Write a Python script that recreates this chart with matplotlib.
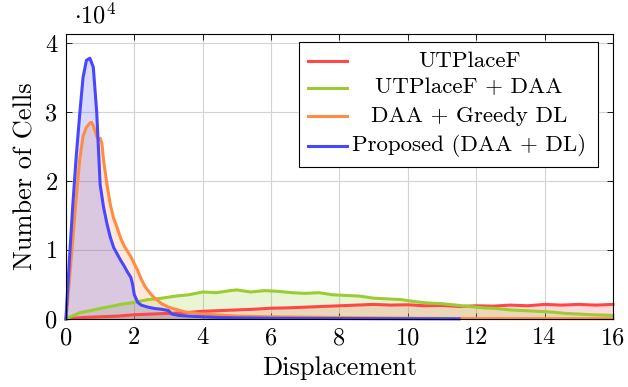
import matplotlib
matplotlib.use('Agg')
import matplotlib.pyplot as plt
from matplotlib.patches import Rectangle

plt.rcParams['font.family'] = 'cmr10'
plt.rcParams['mathtext.fontset'] = 'cm'
plt.rcParams['axes.unicode_minus'] = False
plt.rcParams['font.size'] = 16

# displacement histograms, counts in units of 1e4
red_x = [0, 0.5, 1.0, 1.5, 2.0, 2.5, 3.0, 3.5, 4.0, 4.5, 5.0, 5.5, 6.0, 6.5, 7.0, 7.5, 8.0,
         8.5, 9.0, 9.5, 10.0, 10.5, 11.0, 11.5, 12.0, 12.5, 13.0, 13.5, 14.0, 14.5, 15.0, 15.5, 16.0]
red_y = [0, 0.02, 0.03, 0.04, 0.06, 0.07, 0.08, 0.09, 0.11, 0.12, 0.13, 0.14, 0.155, 0.16, 0.17, 0.18, 0.19,
         0.2, 0.21, 0.2, 0.205, 0.19, 0.195, 0.18, 0.19, 0.185, 0.2, 0.19, 0.21, 0.2, 0.21, 0.2, 0.21]

green_x = [0, 0.4, 0.8, 1.2, 1.6, 2.0, 2.4, 2.8, 3.2, 3.6, 4.0, 4.4, 4.8, 5.0, 5.4, 5.8, 6.2, 6.6, 7.0,
           7.4, 7.8, 8.2, 8.6, 9.0, 9.4, 9.8, 10.2, 10.6, 11.0, 11.4, 11.8, 12.2, 12.6, 13.0, 13.4, 13.8,
           14.2, 14.6, 15.0, 15.4, 16.0]
green_y = [0, 0.09, 0.13, 0.17, 0.21, 0.24, 0.28, 0.3, 0.33, 0.35, 0.39, 0.38, 0.41, 0.42, 0.39, 0.41, 0.4,
           0.38, 0.37, 0.38, 0.35, 0.34, 0.33, 0.3, 0.29, 0.28, 0.25, 0.23, 0.22, 0.2, 0.18, 0.16, 0.15,
           0.13, 0.12, 0.11, 0.1, 0.08, 0.07, 0.06, 0.05]

orange_x = [0, 0.1, 0.2, 0.3, 0.4, 0.5, 0.6, 0.7, 0.75, 0.8, 0.9, 0.95, 1.0, 1.05, 1.1, 1.2, 1.3, 1.4,
            1.5, 1.6, 1.7, 1.8, 1.9, 2.0, 2.1, 2.2, 2.3, 2.4, 2.5, 2.6, 2.8, 3.0, 3.2, 3.5, 4.0, 5.0,
            6.0, 8.0, 10.0, 12.0, 16.0]
orange_y = [0, 0.55, 1.15, 1.75, 2.3, 2.65, 2.78, 2.84, 2.85, 2.8, 2.65, 2.6, 2.62, 2.55, 2.3, 1.95,
            1.65, 1.45, 1.32, 1.17, 1.06, 0.98, 0.9, 0.8, 0.7, 0.58, 0.48, 0.41, 0.35, 0.3, 0.22, 0.17,
            0.14, 0.1, 0.07, 0.04, 0.03, 0.02, 0.01, 0.005, 0.003]

blue_x = [0, 0.1, 0.2, 0.3, 0.4, 0.5, 0.6, 0.7, 0.8, 0.9, 1.0, 1.1, 1.2, 1.3, 1.4, 1.5, 1.6, 1.7, 1.8,
          1.9, 1.95, 2.0, 2.1, 2.2, 2.4, 2.6, 2.8, 3.0, 3.1, 3.3, 3.6, 4.0, 4.5, 5.0, 6.0, 7.0, 8.0,
          9.0, 10.0, 11.0, 11.5]
blue_y = [0, 0.85, 1.65, 2.35, 2.95, 3.5, 3.75, 3.78, 3.65, 3.0, 1.95, 1.62, 1.38, 1.18, 1.03, 0.94,
          0.85, 0.77, 0.68, 0.6, 0.5, 0.35, 0.24, 0.2, 0.17, 0.15, 0.14, 0.12, 0.07, 0.05, 0.04, 0.03,
          0.02, 0.015, 0.01, 0.007, 0.005, 0.003, 0.002, 0.001, 0]

labels = ['UTPlaceF', 'UTPlaceF + DAA', 'DAA + Greedy DL', 'Proposed (DAA + DL)']
colors = ['#ff4747', '#9acd32', '#ff8c42', '#4747ff']

fig = plt.figure(figsize=(6.28, 3.87), dpi=100)
ax = fig.add_axes([0.105, 0.176, 0.871, 0.736])

series = [(red_x, red_y), (green_x, green_y), (orange_x, orange_y), (blue_x, blue_y)]
for (xs, ys), c in zip(series, colors):
    ax.fill_between(xs, 0, ys, color=c, alpha=0.2, lw=0)
    ax.plot(xs, ys, color=c, lw=2.2, solid_joinstyle='round', clip_on=False)

ax.set_xlim(0, 16)
ax.set_ylim(0, 4.13)
ax.set_xticks(range(0, 17, 2))
ax.set_yticks([0, 1, 2, 3, 4])
ax.grid(True, color='#d3d3d3', lw=0.8)
ax.set_axisbelow(True)
ax.tick_params(direction='in', top=True, right=True, length=4, width=0.6, labelsize=17.5, pad=6)
for s in ax.spines.values():
    s.set_linewidth(0.8)
ax.set_xlabel('Displacement', fontsize=19, labelpad=5)
ax.set_ylabel('Number of Cells', fontsize=19, labelpad=6)
ax.text(0.015, 1.02, r'$\cdot 10^4$', transform=ax.transAxes, fontsize=17.5, va='bottom')

# legend drawn by hand so the labels can be centred like pgfplots
ax.add_patch(Rectangle((0.426, 0.533), 0.547, 0.439, transform=ax.transAxes,
                       facecolor='white', edgecolor='black', lw=0.8, zorder=5))
rows = [0.905, 0.812, 0.712, 0.607]
for lab, c, yy in zip(labels, colors, rows):
    ax.plot([0.443, 0.514], [yy, yy], transform=ax.transAxes, color=c, lw=2.2, zorder=6)
    ax.text(0.737, yy, lab, transform=ax.transAxes, ha='center', va='center',
            fontsize=16.5, zorder=6)

fig.savefig('out.png', dpi=100)
